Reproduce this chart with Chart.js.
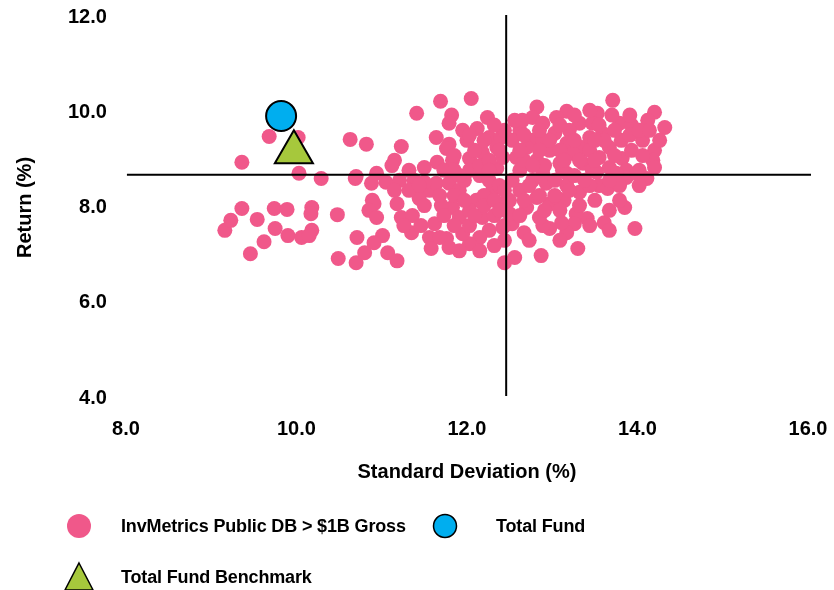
<!DOCTYPE html>
<html>
<head>
<meta charset="utf-8">
<script src="https://cdn.jsdelivr.net/npm/chart.js@4.4.1/dist/chart.umd.min.js"></script>
<style>
  html, body { margin: 0; padding: 0; background: #fff; }
  #wrap { position: relative; width: 834px; height: 590px; overflow: hidden; }
  #chart { position: absolute; left: 0; top: 0; }
  .leg { position: absolute; font-family: "Liberation Sans", Arial, sans-serif; font-weight: bold; font-size: 18px; color: #000; white-space: nowrap; letter-spacing: -0.15px; line-height: 20px; }
  .mk { position: absolute; }
</style>
</head>
<body>
<div id="wrap">
  <canvas id="chart" width="834" height="590"></canvas>
  <svg class="mk" style="left:66px;top:513px" width="26" height="26"><circle cx="13" cy="13" r="12" fill="#F0588A"/></svg>
  <div class="leg" style="left:121px;top:516px">InvMetrics Public DB &gt; $1B Gross</div>
  <svg class="mk" style="left:432px;top:513px" width="26" height="26"><circle cx="13" cy="13" r="11.5" fill="#00AEEF" stroke="#000" stroke-width="1.5"/></svg>
  <div class="leg" style="left:496px;top:516px">Total Fund</div>
  <svg class="mk" style="left:63px;top:561px" width="32" height="30"><polygon points="16,2 30,29 2,29" fill="#A6C83C" stroke="#000" stroke-width="1.5"/></svg>
  <div class="leg" style="left:121px;top:567px">Total Fund Benchmark</div>
</div>
<script>
// ---- data ----
const seriesNames = ["InvMetrics Public DB > $1B Gross", "Total Fund", "Total Fund Benchmark"];

const peerSD = [
  9.16, 9.23, 9.36, 9.36, 9.46, 9.54, 9.62, 9.68, 9.74, 9.75,
  9.89, 9.90, 10.02, 10.03, 10.06, 10.18, 10.17, 10.18, 10.15, 10.29,
  10.48, 10.49, 10.63, 10.69, 10.71, 10.70, 10.82, 10.88, 11.05, 11.21,
  10.89, 10.91, 10.85, 10.94, 11.18, 11.23, 11.36, 11.35, 11.46, 11.01,
  10.91, 10.80, 11.07, 11.18, 11.62, 11.56, 11.58, 11.79, 11.76, 11.68,
  11.23, 11.15, 11.12, 11.41, 11.69, 12.05, 11.82, 11.79, 11.95, 12.24,
  12.12, 11.64, 11.79, 11.76, 12.26, 12.35, 11.65, 11.83, 12.03, 12.18,
  11.50, 11.32, 10.94, 10.70, 11.44, 11.56, 11.64, 11.79, 11.91, 11.83,
  11.91, 12.11, 12.18, 12.26, 12.15, 12.03, 11.95, 12.30, 12.42, 12.44,
  12.03, 12.15, 12.26, 12.35, 12.38, 12.20, 12.03, 12.32, 12.44, 12.03,
  11.85, 11.97, 12.15, 11.73, 12.26, 12.44, 12.32, 11.38, 11.50, 11.70,
  12.82, 13.17, 13.71, 13.53, 13.32, 13.79, 14.20, 14.12, 14.32, 14.06,
  14.20, 14.18, 14.20, 13.81, 13.82, 13.87, 12.77, 12.62, 12.89, 13.05,
  13.03, 13.20, 13.47, 13.59, 13.67, 13.55, 13.36, 13.17, 12.97, 12.77,
  12.53, 12.58, 12.82, 13.09, 13.36, 13.67, 14.02, 12.40, 12.42, 12.62,
  12.89, 13.17, 13.47, 12.89, 13.24, 13.44, 12.70, 13.55, 13.65, 14.11,
  13.87, 13.85, 13.97, 13.61, 13.67, 13.41, 13.28, 13.26, 13.17, 13.11,
  12.97, 12.89, 12.85, 13.32, 13.17, 12.97, 13.05, 12.82, 12.70, 12.67,
  12.53, 12.50, 12.62, 12.53, 12.77, 12.93, 12.50, 12.42, 12.87, 13.30,
  12.56, 13.52, 13.75, 13.99, 13.12, 12.67, 12.91, 13.09, 13.26, 13.44,
  13.61, 13.73, 13.93, 13.79, 13.44, 13.26, 13.03, 12.73, 12.85, 13.14,
  13.32, 13.50, 12.91, 13.09, 12.65, 13.70, 13.93, 13.91,
  11.32, 11.26, 11.50, 11.73, 11.85, 11.97, 12.09, 12.20, 12.32, 12.26,
  12.09, 11.91, 12.38, 12.44, 12.20, 12.00, 11.85, 12.44, 12.38, 12.15,
  11.91,
  12.56, 12.67, 12.85, 13.09, 13.26, 13.44, 13.55, 13.73, 13.91, 14.02,
  14.26, 14.06, 14.02, 13.79, 13.67, 13.44, 13.09, 12.73, 12.62, 12.67,
  12.77, 12.97, 13.14, 13.32, 13.50, 13.67, 13.38, 13.20, 13.03, 12.62,
  12.85, 13.50, 14.14,
  12.03, 12.32, 11.44, 11.68, 11.15, 11.85
];
const peerReturn = [
  7.52, 7.73, 7.98, 8.95, 7.03, 7.75, 7.28, 9.49, 7.98, 7.56,
  7.96, 7.41, 9.47, 8.72, 7.37, 8.00, 7.87, 7.52, 7.41, 8.61,
  7.85, 6.93, 9.43, 8.61, 7.37, 6.84, 9.33, 8.51, 8.53, 8.57,
  8.15, 8.08, 7.94, 7.79, 8.08, 7.79, 7.83, 7.47, 7.62, 7.41,
  7.26, 7.05, 7.05, 6.88, 7.66, 7.37, 7.14, 7.16, 7.35, 7.37,
  9.28, 8.99, 8.88, 9.98, 10.23, 10.29, 9.94, 9.77, 9.62, 9.89,
  9.66, 9.47, 9.33, 9.24, 9.47, 9.26, 8.95, 8.99, 9.03, 9.16,
  8.84, 8.78, 8.72, 8.65, 8.19, 8.36, 8.51, 8.51, 8.36, 8.00,
  7.79, 8.15, 7.79, 7.52, 7.37, 7.24, 7.45, 8.36, 8.08, 6.84,
  8.78, 8.67, 8.57, 8.82, 8.46, 8.25, 7.94, 7.83, 7.62, 7.62,
  8.25, 8.57, 8.88, 8.78, 8.99, 7.31, 7.20, 8.57, 8.53, 8.04,
  10.11, 10.02, 10.25, 9.98, 9.77, 9.77, 10.00, 9.83, 9.68, 9.41,
  9.20, 8.99, 8.84, 9.41, 9.03, 8.78, 9.89, 9.62, 9.77, 9.89,
  9.56, 9.62, 9.77, 9.56, 9.26, 9.05, 9.26, 9.35, 9.20, 9.41,
  9.41, 9.05, 8.99, 8.93, 8.93, 8.84, 8.78, 9.47, 9.05, 8.78,
  8.72, 8.72, 8.78, 9.41, 9.14, 9.47, 9.26, 8.46, 8.40, 8.61,
  8.63, 8.00, 7.56, 7.68, 7.52, 7.77, 7.87, 7.66, 7.47, 7.68,
  7.56, 7.62, 7.79, 8.32, 8.46, 8.08, 8.21, 8.21, 8.00, 7.47,
  7.66, 7.87, 8.36, 8.57, 8.57, 8.51, 8.15, 7.58, 6.99, 7.14,
  6.95, 8.74, 8.72, 8.72, 8.78, 8.99, 8.88, 9.20, 9.41, 9.20,
  9.41, 9.09, 9.20, 8.46, 8.46, 8.67, 8.57, 8.46, 8.25, 8.15,
  8.04, 8.15, 7.94, 7.94, 9.83, 9.94, 9.73, 9.52,
  8.36, 7.62, 8.04, 7.83, 7.62, 8.15, 7.83, 8.04, 8.15, 8.78,
  9.20, 8.67, 9.20, 9.62, 9.41, 9.41, 8.78, 8.36, 7.94, 7.09,
  7.09,
  9.83, 9.52, 9.62, 9.73, 9.94, 10.04, 9.73, 9.62, 9.94, 9.62,
  9.41, 9.09, 8.46, 8.15, 7.94, 7.62, 7.31, 7.31, 7.83, 8.15,
  8.88, 9.41, 8.99, 8.99, 8.99, 8.57, 8.57, 8.36, 8.25, 9.20,
  9.20, 9.41, 9.62,
  9.52, 9.73, 8.46, 8.25, 8.36, 9.09
];
const fundSD = [9.82];
const fundReturn = [9.92];
const benchSD = [9.97];
const benchReturn = [9.16];
const medianSD = [12.46];
const medianReturn = [8.69];
const xTicks = [8, 10, 12, 14, 16];
const yTicks = [4, 6, 8, 10, 12];
const xTitle = "Standard Deviation (%)";
const yTitle = "Return (%)";

// ---- build ----
const toXY = (xs, ys) => xs.map((x, i) => ({ x: x, y: ys[i] }));
const FONT = '"Liberation Sans", Arial, sans-serif';

const crosshair = {
  id: 'crosshair',
  afterDatasetsDraw(chart) {
    const { ctx, chartArea, scales } = chart;
    const px = scales.x.getPixelForValue(medianSD[0]);
    const py = scales.y.getPixelForValue(medianReturn[0]);
    ctx.save();
    ctx.strokeStyle = '#000';
    ctx.lineWidth = 2;
    ctx.beginPath();
    ctx.moveTo(px, chartArea.top - 2);
    ctx.lineTo(px, chartArea.bottom - 2);
    ctx.moveTo(chartArea.left + 1, py);
    ctx.lineTo(chartArea.right + 3, py);
    ctx.stroke();
    ctx.restore();
  }
};

new Chart(document.getElementById('chart'), {
  type: 'scatter',
  data: {
    datasets: [
      {
        label: seriesNames[1],
        data: toXY(fundSD, fundReturn),
        pointRadius: 15, pointHoverRadius: 15,
        backgroundColor: '#00AEEF', borderColor: '#000', borderWidth: 2,
        order: 1
      },
      {
        label: seriesNames[2],
        data: toXY(benchSD, benchReturn),
        pointStyle: 'triangle',
        pointRadius: 22, pointHoverRadius: 22,
        backgroundColor: '#A6C83C', borderColor: '#000', borderWidth: 2,
        order: 2
      },
      {
        label: seriesNames[0],
        data: toXY(peerSD, peerReturn),
        pointRadius: 7.5, pointHoverRadius: 7.5,
        backgroundColor: '#F0588A', borderWidth: 0,
        order: 3
      }
    ]
  },
  options: {
    responsive: false,
    animation: false,
    layout: { autoPadding: false, padding: { left: 13, top: 17, right: 26, bottom: 103 } },
    plugins: { legend: { display: false }, tooltip: { enabled: false } },
    scales: {
      x: {
        type: 'linear', min: xTicks[0], max: xTicks[xTicks.length - 1],
        border: { display: false },
        grid: { display: false, drawTicks: false },
        afterBuildTicks: (s) => { s.ticks = xTicks.map(v => ({ value: v })); },
        afterFit: (s) => { s.paddingLeft = 0; s.paddingRight = 0; },
        ticks: { padding: 19, color: '#000', font: { family: FONT, size: 20, weight: 'bold' },
                 callback: (v) => Number(v).toFixed(1) },
        title: { display: true, text: xTitle, color: '#000', padding: { top: 0, bottom: 3 },
                 font: { family: FONT, size: 20, weight: 'bold' } }
      },
      y: {
        type: 'linear', min: yTicks[0], max: yTicks[yTicks.length - 1],
        border: { display: false },
        grid: { display: false, drawTicks: false },
        afterBuildTicks: (s) => { s.ticks = yTicks.map(v => ({ value: v })); },
        afterFit: (s) => { s.paddingTop = 0; s.paddingBottom = 0; },
        ticks: { padding: 19, color: '#000', font: { family: FONT, size: 20, weight: 'bold' },
                 callback: (v) => Number(v).toFixed(1) },
        title: { display: true, text: yTitle, color: '#000', padding: { top: 0, bottom: 12 },
                 font: { family: FONT, size: 20, weight: 'bold' } }
      }
    }
  },
  plugins: [crosshair]
});
</script>
</body>
</html>
